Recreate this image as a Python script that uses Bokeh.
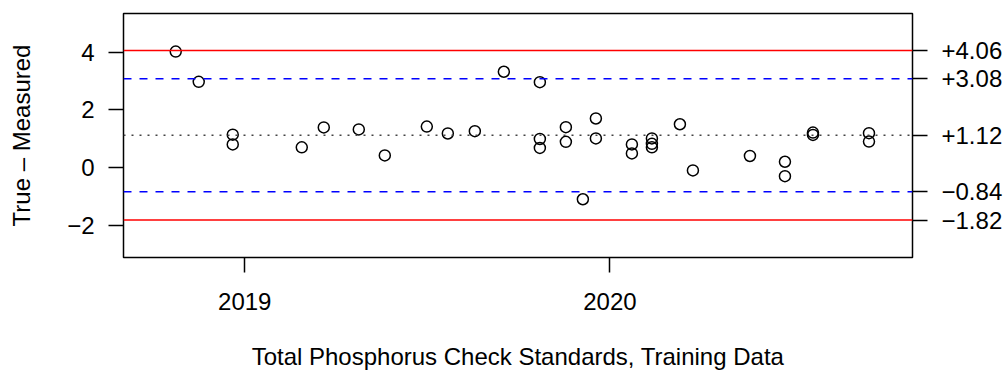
import pandas as pd
from bokeh.plotting import figure
from bokeh.models import (Span, LinearAxis, FixedTicker, DatetimeTickFormatter,
                          Range1d, ColumnDataSource)
from bokeh.embed import file_html
from bokeh.resources import INLINE

# ---- data ----
dates = ["2018-10-24", "2018-11-16", "2018-12-20", "2018-12-20", "2019-02-27",
         "2019-03-21", "2019-04-25", "2019-05-21", "2019-07-02", "2019-07-23",
         "2019-08-19", "2019-09-17", "2019-10-23", "2019-10-23", "2019-10-23",
         "2019-11-18", "2019-11-18", "2019-12-05", "2019-12-18", "2019-12-18",
         "2020-01-23", "2020-01-23", "2020-02-12", "2020-02-12", "2020-02-12",
         "2020-03-11", "2020-03-24", "2020-05-20", "2020-06-24", "2020-06-24",
         "2020-07-22", "2020-07-22", "2020-09-16", "2020-09-16"]
diffs = [4.02, 2.97, 1.14, 0.80, 0.70, 1.39, 1.32, 0.42, 1.42, 1.18,
         1.26, 3.32, 2.96, 0.99, 0.68, 1.40, 0.89, -1.10, 1.70, 1.01,
         0.80, 0.49, 1.01, 0.82, 0.70, 1.50, -0.10, 0.40, 0.20, -0.30,
         1.21, 1.13, 1.19, 0.90]

center_line = 1.12
warning_limits = [3.08, -0.84]
control_limits = [4.06, -1.82]
limit_ticks = [4.06, 3.08, 1.12, -0.84, -1.82]
limit_labels = ["+4.06", "+3.08", "+1.12", "\u22120.84", "\u22121.82"]

y_ticks = [-2, 0, 2, 4]
y_tick_labels = ["\u22122", "0", "2", "4"]
x_tick_dates = ["2019-01-01", "2020-01-01"]

x_label = "Total Phosphorus Check Standards, Training Data"
y_label = "True \u2013 Measured"

# ---- figure ----
FONT = "Liberation Sans"
FS = "24px"

src = ColumnDataSource(dict(x=pd.to_datetime(dates), y=diffs))

p = figure(width=1006, height=373, output_backend="svg", toolbar_location=None,
           x_axis_type="datetime",
           x_range=Range1d(pd.Timestamp("2018-09-01 19:00"), pd.Timestamp("2020-10-29 12:00")),
           y_range=Range1d(-3.12, 5.34),
           min_border_left=123, min_border_right=94, min_border_top=13, min_border_bottom=116)
p.background_fill_color = "white"
p.border_fill_color = "white"
p.grid.visible = False
p.outline_line_color = "black"
p.outline_line_width = 1.5

for loc in control_limits:
    p.add_layout(Span(location=loc, dimension="width", line_color="#FF0000", line_width=1.5))
for loc in warning_limits:
    p.add_layout(Span(location=loc, dimension="width", line_color="#0000FF", line_width=1.5,
                      line_dash="8 8"))
p.add_layout(Span(location=center_line, dimension="width", line_color="#444444",
                  line_width=1.5, line_dash="2 6"))

p.scatter("x", "y", source=src, marker="circle", size=11, fill_color=None,
          line_color="black", line_width=1.5)


def style_axis(ax):
    ax.axis_line_color = None
    ax.major_tick_line_color = "black"
    ax.major_tick_line_width = 1.5
    ax.major_tick_in = 0
    ax.major_tick_out = 15
    ax.minor_tick_line_color = None
    ax.major_label_text_font = FONT
    ax.major_label_text_font_size = FS
    ax.major_label_text_color = "black"
    ax.axis_label_text_font = FONT
    ax.axis_label_text_font_size = FS
    ax.axis_label_text_font_style = "normal"
    ax.axis_label_text_color = "black"


# bottom axis
xa = p.xaxis[0]
style_axis(xa)
xa.ticker = FixedTicker(ticks=[pd.Timestamp(d).value / 1e6 for d in x_tick_dates])
xa.formatter = DatetimeTickFormatter(years="%Y", months="%Y", days="%Y", hours="%Y",
                                     minutes="%Y", seconds="%Y", milliseconds="%Y",
                                     microseconds="%Y", hourmin="%Y", minsec="%Y")
xa.major_label_standoff = 20
xa.axis_label = x_label
xa.axis_label_standoff = 30

# left axis
ya = p.yaxis[0]
style_axis(ya)
ya.ticker = FixedTicker(ticks=y_ticks)
ya.major_label_overrides = {t: l for t, l in zip(y_ticks, y_tick_labels)}
ya.major_label_orientation = "horizontal"
ya.major_label_standoff = 14
ya.axis_label = y_label
ya.axis_label_standoff = 29

# right axis with limit labels
ra = LinearAxis(ticker=FixedTicker(ticks=limit_ticks))
style_axis(ra)
ra.major_label_overrides = {t: l for t, l in zip(limit_ticks, limit_labels)}
ra.major_label_standoff = 14
p.add_layout(ra, "right")

open("out.html", "w").write(file_html(p, INLINE))
